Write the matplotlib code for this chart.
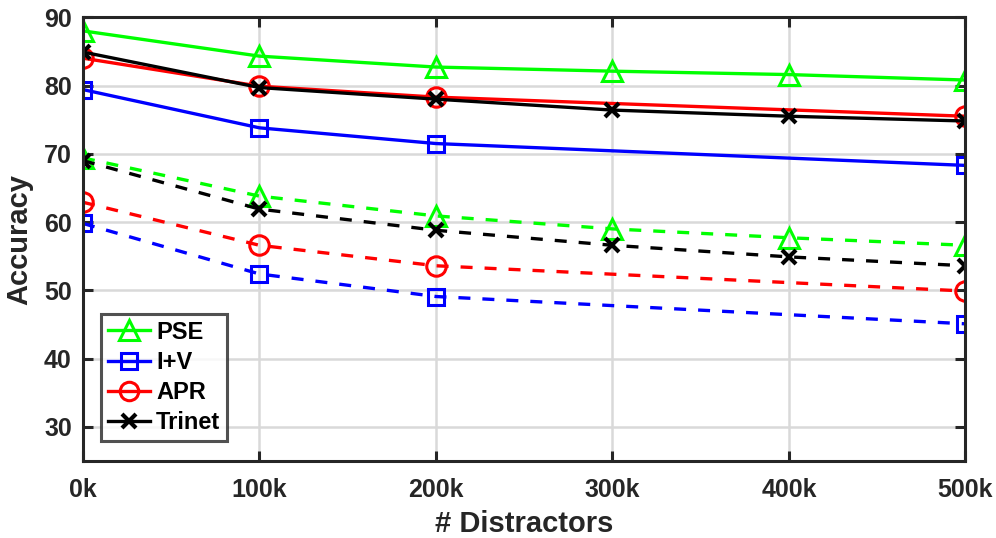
import matplotlib
matplotlib.use("agg")
import matplotlib.pyplot as plt

plt.rcParams['font.family'] = ['Liberation Sans', 'DejaVu Sans']
plt.rcParams['font.weight'] = 'bold'

x_full = [0, 100, 200, 300, 400, 500]
x_part = [0, 100, 200, 500]
xtick_labels = ['0k', '100k', '200k', '300k', '400k', '500k']

pse_solid = [88.0, 84.3, 82.7, 82.1, 81.6, 80.8]
iv_solid = [79.4, 73.8, 71.5, 68.3]
apr_solid = [84.0, 79.9, 78.3, 75.5]
trinet_solid = [84.9, 79.7, 78.0, 76.4, 75.5, 74.8]

pse_dash = [69.4, 63.8, 60.9, 59.0, 57.7, 56.6]
iv_dash = [59.8, 52.4, 49.1, 45.1]
apr_dash = [62.9, 56.6, 53.6, 49.9]
trinet_dash = [69.0, 61.9, 58.8, 56.6, 54.9, 53.6]

fig = plt.figure(figsize=(9.96, 5.38), dpi=100)
ax = fig.add_axes([0.0833, 0.143, 0.886, 0.825])

lw = 2.4
mew = 2.2
green, blue, red = '#00ff00', '#0000ff', '#ff0000'
sty = {
    'pse': dict(color=green, marker='^', ms=15, mfc='none', mew=mew, lw=lw),
    'iv': dict(color=blue, marker='s', ms=11.5, mfc='none', mew=mew, lw=lw),
    'apr': dict(color=red, marker='o', ms=14, mfc='none', mew=mew, lw=lw),
    'tri': dict(color='black', marker='x', ms=10, mew=3, lw=lw),
}
dash = (0, (3.6, 3.6))
ax.plot(x_full, pse_solid, '-', label='PSE', **sty['pse'])
ax.plot(x_part, iv_solid, '-', label='I+V', **sty['iv'])
ax.plot(x_part, apr_solid, '-', label='APR', **sty['apr'])
ax.plot(x_full, trinet_solid, '-', label='Trinet', **sty['tri'])

ax.plot(x_full, pse_dash, ls=dash, **sty['pse'])
ax.plot(x_part, iv_dash, ls=dash, **sty['iv'])
ax.plot(x_part, apr_dash, ls=dash, **sty['apr'])
ax.plot(x_full, trinet_dash, ls=dash, **sty['tri'])

ax.set_xlim(0, 500)
ax.set_ylim(25, 90)
ax.set_xticks(x_full)
ax.set_xticklabels(xtick_labels)
ax.set_yticks([30, 40, 50, 60, 70, 80, 90])
ax.grid(True, color='#d9d9d9', lw=1.8)
ax.set_axisbelow(True)
for s in ax.spines.values():
    s.set_linewidth(2.2)
    s.set_color('#262626')
ax.tick_params(direction='in', length=7, width=2.2, color='#262626', labelsize=18,
               labelcolor='#262626', top=True, right=True, pad=8)
ax.tick_params(axis='x', pad=12)
for lab in ax.get_xticklabels() + ax.get_yticklabels():
    lab.set_fontweight('bold')

ax.set_xlabel('# Distractors', fontsize=21, fontweight='bold', color='#262626', labelpad=6)
ax.set_ylabel('Accuracy', fontsize=21, fontweight='bold', color='#262626', labelpad=8)

leg = ax.legend(loc='lower left', bbox_to_anchor=(0.02, 0.045), fontsize=17, frameon=True,
                fancybox=False, handlelength=1.8, handletextpad=0.25, borderpad=0.3,
                labelspacing=0.3, borderaxespad=0, markerscale=0.95)
leg.get_frame().set_edgecolor('#262626')
leg.get_frame().set_linewidth(2.2)
for t in leg.get_texts():
    t.set_fontweight('bold')

fig.savefig('out.png', dpi=100)
